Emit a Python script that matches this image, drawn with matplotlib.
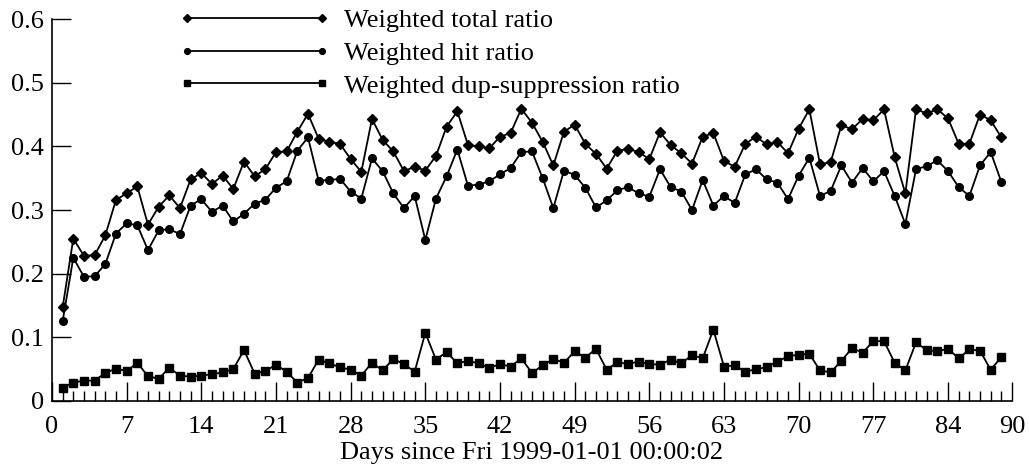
import matplotlib
matplotlib.use("Agg")
import matplotlib.pyplot as plt
from matplotlib.ticker import MultipleLocator, FixedLocator
from matplotlib.legend_handler import HandlerLine2D
import numpy as np

plt.rcParams["font.family"] = ["Liberation Serif", "DejaVu Serif"]
plt.rcParams["font.size"] = 19

# daily weighted ratios, day 1..89
days = np.arange(1, 90)

total = [0.147, 0.255, 0.228, 0.229, 0.260, 0.316, 0.326, 0.337, 0.277, 0.305,
         0.323, 0.303, 0.348, 0.358, 0.341, 0.354, 0.333, 0.376, 0.353, 0.364,
         0.391, 0.392, 0.423, 0.451, 0.412, 0.407, 0.404, 0.380, 0.360, 0.443,
         0.410, 0.392, 0.361, 0.368, 0.362, 0.385, 0.431, 0.455, 0.402, 0.400,
         0.397, 0.415, 0.421, 0.459, 0.437, 0.407, 0.370, 0.423, 0.434, 0.404,
         0.388, 0.365, 0.393, 0.396, 0.391, 0.380, 0.422, 0.402, 0.389, 0.373,
         0.415, 0.421, 0.377, 0.368, 0.404, 0.415, 0.403, 0.407, 0.389, 0.428,
         0.458, 0.372, 0.375, 0.433, 0.427, 0.443, 0.441, 0.458, 0.383, 0.326,
         0.458, 0.452, 0.458, 0.444, 0.404, 0.404, 0.450, 0.441, 0.414]

hit = [0.125, 0.225, 0.195, 0.196, 0.215, 0.263, 0.279, 0.276, 0.237, 0.268,
       0.270, 0.262, 0.307, 0.317, 0.297, 0.307, 0.282, 0.294, 0.310, 0.316,
       0.335, 0.345, 0.393, 0.414, 0.346, 0.347, 0.349, 0.329, 0.318, 0.381,
       0.361, 0.326, 0.303, 0.322, 0.253, 0.318, 0.353, 0.395, 0.338, 0.340,
       0.345, 0.356, 0.366, 0.391, 0.392, 0.350, 0.303, 0.362, 0.355, 0.335,
       0.304, 0.315, 0.331, 0.336, 0.326, 0.321, 0.364, 0.336, 0.329, 0.300,
       0.347, 0.307, 0.322, 0.311, 0.356, 0.364, 0.348, 0.343, 0.317, 0.354,
       0.382, 0.322, 0.330, 0.370, 0.343, 0.366, 0.345, 0.361, 0.322, 0.278,
       0.364, 0.369, 0.378, 0.361, 0.336, 0.322, 0.370, 0.391, 0.344]

dup = [0.021, 0.029, 0.032, 0.032, 0.044, 0.051, 0.047, 0.060, 0.039, 0.035,
       0.052, 0.040, 0.038, 0.040, 0.042, 0.045, 0.050, 0.080, 0.043, 0.047,
       0.057, 0.046, 0.029, 0.036, 0.065, 0.059, 0.053, 0.049, 0.040, 0.060,
       0.048, 0.066, 0.058, 0.046, 0.107, 0.065, 0.077, 0.059, 0.063, 0.059,
       0.052, 0.058, 0.054, 0.067, 0.044, 0.056, 0.066, 0.060, 0.078, 0.068,
       0.082, 0.049, 0.061, 0.058, 0.062, 0.058, 0.057, 0.065, 0.059, 0.072,
       0.067, 0.112, 0.054, 0.056, 0.046, 0.050, 0.053, 0.062, 0.070, 0.073,
       0.074, 0.048, 0.045, 0.063, 0.083, 0.076, 0.094, 0.094, 0.060, 0.048,
       0.092, 0.080, 0.078, 0.082, 0.067, 0.081, 0.079, 0.049, 0.069]

xticks = [0, 7, 14, 21, 28, 35, 42, 49, 56, 63, 70, 77, 84, 90]
yticks = [0, 0.1, 0.2, 0.3, 0.4, 0.5, 0.6]
ylabels = ["0", "0.1", "0.2", "0.3", "0.4", "0.5", "0.6"]

fig = plt.figure(figsize=(10.29, 4.66), dpi=100)
ax = fig.add_axes([0.0505, 0.1395, 0.933, 0.8197])

lw = 1.3
ax.plot(days, total, "k-", marker="D", ms=5.2, lw=lw, label="Weighted total ratio")
ax.plot(days, hit, "k-", marker="o", ms=5.5, lw=lw, label="Weighted hit ratio")
ax.plot(days, dup, "k-", marker="s", ms=5.2, lw=lw, label="Weighted dup-suppression ratio")

ax.set_xlim(0, 90)
ax.set_ylim(0, 0.6)
ax.xaxis.set_major_locator(FixedLocator(xticks))
ax.xaxis.set_minor_locator(MultipleLocator(1))
ax.yaxis.set_major_locator(FixedLocator(yticks))
ax.set_yticklabels(ylabels)

ax.tick_params(axis="both", which="major", direction="in", length=14, width=1.0, color="k")
ax.tick_params(axis="x", which="major", pad=11)
ax.tick_params(axis="y", which="major", pad=6)
ax.tick_params(axis="x", which="minor", direction="in", length=7, width=1.0)

for s in ("top", "right"):
    ax.spines[s].set_visible(False)
for s in ("left", "bottom"):
    ax.spines[s].set_linewidth(1.2)

ax.set_xlabel("Days since Fri 1999-01-01 00:00:02", labelpad=2.5)

# key: line with a marker on each end
ax.legend(loc="upper left", bbox_to_anchor=(0.1406, 1.028), frameon=False,
          numpoints=2, handlelength=5.1, handletextpad=0.85, labelspacing=0.36,
          markerscale=0.75, borderpad=0, borderaxespad=0,
          handler_map={plt.Line2D: HandlerLine2D(marker_pad=0)})

fig.savefig("out.png", dpi=100)
